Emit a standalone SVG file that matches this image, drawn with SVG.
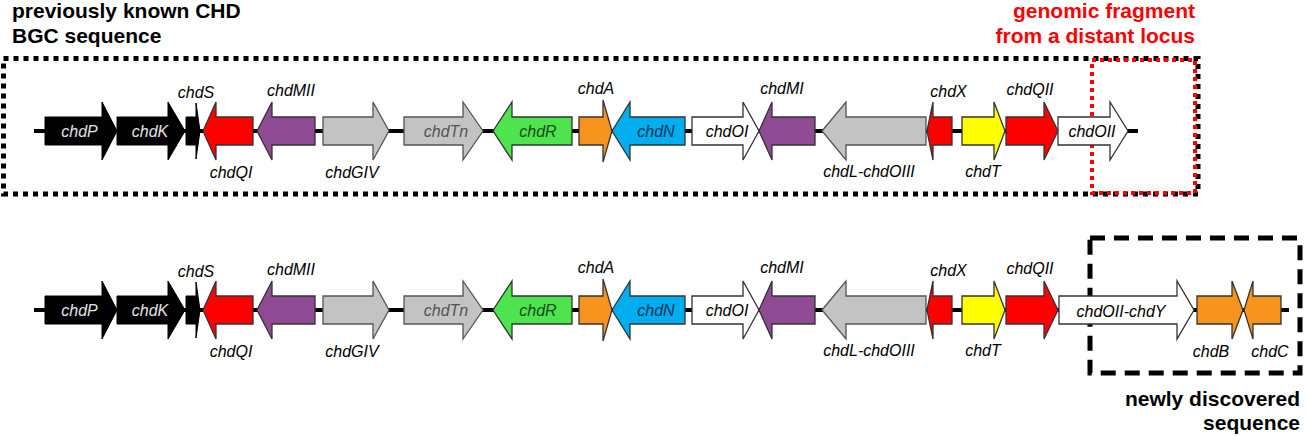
<svg xmlns="http://www.w3.org/2000/svg" width="1307" height="436" viewBox="0 0 1307 436">
<style>
.g{stroke:#333;stroke-width:1.3;stroke-linejoin:miter}
.blk{fill:#000;stroke:#000;stroke-width:1}
.red{fill:#ff0000}
.pur{fill:#8f4a94}
.gry{fill:#c3c3c3;stroke:#555}
.grn{fill:#4ee44e}
.org{fill:#f7941d}
.blu{fill:#00adef}
.yel{fill:#ffff00}
.wht{fill:#fff}
.lbl{font-family:"Liberation Sans",Arial,sans-serif;font-style:italic;font-size:16px;text-anchor:middle;fill:#000}
.title{font-family:"Liberation Sans",Arial,sans-serif;font-weight:bold;font-size:21px;fill:#000}
.line{stroke:#000;stroke-width:4;fill:none}
</style>
<g id="titles">
<text class="title" x="12" y="18">previously known CHD</text>
<text class="title" x="12" y="43">BGC sequence</text>
<text class="title" x="1195" y="18" text-anchor="end" style="fill:#ff0000">genomic fragment</text>
<text class="title" x="1195" y="43" text-anchor="end" style="fill:#ff0000">from a distant locus</text>
<text class="title" x="1300" y="406" text-anchor="end">newly discovered</text>
<text class="title" x="1300" y="430" text-anchor="end">sequence</text>
</g>
<g id="boxes" fill="none">
<rect x="3.5" y="58.5" width="1194.5" height="135.5" stroke="#000" stroke-width="5" stroke-dasharray="5 5"/>
<rect x="1092" y="60" width="103" height="133" stroke="#ff0000" stroke-width="4" stroke-dasharray="4 4"/>
<path d="M1090,238 H1297 Q1300,238 1300,241 V373 H1090 Z" stroke="#000" stroke-width="5" stroke-dasharray="15 9"/>
</g>
<g id="connectors">
<line class="line" x1="34" y1="131" x2="1138" y2="131"/>
<line class="line" x1="34" y1="310" x2="1289" y2="310"/>
</g>
<g id="row1">
<g id="r1-chdP"><polygon class="blk" points="45,117 102,117 102,102 117,131 102,160 102,145 45,145"/><text class="lbl" x="79.5" y="137" style="fill:#e2e2e2">chdP</text></g>
<g id="r1-chdK"><polygon class="blk" points="117,117 168,117 168,102 185,131 168,160 168,145 117,145"/><text class="lbl" x="150" y="137" style="fill:#e2e2e2">chdK</text></g>
<g id="r1-chdS"><polygon class="blk" points="186,117 196,117 196,103 200,131 196,159 196,145 186,145"/><text class="lbl" x="196" y="97.5">chdS</text></g>
<g id="r1-chdQI"><polygon class="g red" points="203,131 216,102 216,117 253,117 253,145 216,145 216,160"/><text class="lbl" x="231" y="177.5">chdQI</text></g>
<g id="r1-chdMII"><polygon class="g pur" points="257,131 272,102 272,117 315,117 315,145 272,145 272,160"/><text class="lbl" x="291" y="96">chdMII</text></g>
<g id="r1-chdGIV"><polygon class="g gry" points="323,117 373,117 373,102 389,131 373,160 373,145 323,145"/><text class="lbl" x="352" y="178">chdGIV</text></g>
<g id="r1-chdTn"><polygon class="g gry" points="404,117 463,117 463,102 483,131 463,160 463,145 404,145"/><text class="lbl" x="446" y="137" style="fill:#555">chdTn</text></g>
<g id="r1-chdR"><polygon class="g grn" points="493,131 512,102 512,117 572,117 572,145 512,145 512,160"/><text class="lbl" x="538" y="137" style="fill:#1c4a1c">chdR</text></g>
<g id="r1-chdA"><polygon class="g org" points="579,117 603,117 603,100 612,131 603,162 603,145 579,145"/><text class="lbl" x="596" y="93.5">chdA</text></g>
<g id="r1-chdN"><polygon class="g blu" points="612,131 630,102 630,117 685,117 685,145 630,145 630,160"/><text class="lbl" x="656" y="137" style="fill:#0c3656">chdN</text></g>
<g id="r1-chdOI"><polygon class="g wht" points="692,117 743,117 743,102 759,131 743,160 743,145 692,145"/><text class="lbl" x="727" y="137">chdOI</text></g>
<g id="r1-chdMI"><polygon class="g pur" points="759,131 772,102 772,117 815,117 815,145 772,145 772,160"/><text class="lbl" x="782" y="93.5">chdMI</text></g>
<g id="r1-chdL"><polygon class="g gry" points="822,131 846,102 846,117 926,117 926,145 846,145 846,160"/><text class="lbl" x="869" y="177">chdL-chdOIII</text></g>
<g id="r1-chdX"><polygon class="g red" points="927,131 933,102 933,117 952,117 952,145 933,145 933,160"/><text class="lbl" x="948.5" y="96.5">chdX</text></g>
<g id="r1-chdT"><polygon class="g yel" points="962,117 994,117 994,102 1005,131 994,160 994,145 962,145"/><text class="lbl" x="983" y="177">chdT</text></g>
<g id="r1-chdQII"><polygon class="g red" points="1006,117 1044,117 1044,102 1058,131 1044,160 1044,145 1006,145"/><text class="lbl" x="1030" y="95">chdQII</text></g>
<g id="r1-chdOII"><polygon class="g wht" points="1058,117 1110,117 1110,102 1128,131 1110,160 1110,145 1058,145"/><text class="lbl" x="1092" y="137">chdOII</text></g>
</g>
<g id="row2" transform="translate(0,179)">
<g id="r2-chdP"><polygon class="blk" points="45,117 102,117 102,102 117,131 102,160 102,145 45,145"/><text class="lbl" x="79.5" y="137" style="fill:#e2e2e2">chdP</text></g>
<g id="r2-chdK"><polygon class="blk" points="117,117 168,117 168,102 185,131 168,160 168,145 117,145"/><text class="lbl" x="150" y="137" style="fill:#e2e2e2">chdK</text></g>
<g id="r2-chdS"><polygon class="blk" points="186,117 196,117 196,103 200,131 196,159 196,145 186,145"/><text class="lbl" x="196" y="97.5">chdS</text></g>
<g id="r2-chdQI"><polygon class="g red" points="203,131 216,102 216,117 253,117 253,145 216,145 216,160"/><text class="lbl" x="231" y="177.5">chdQI</text></g>
<g id="r2-chdMII"><polygon class="g pur" points="257,131 272,102 272,117 315,117 315,145 272,145 272,160"/><text class="lbl" x="291" y="96">chdMII</text></g>
<g id="r2-chdGIV"><polygon class="g gry" points="323,117 373,117 373,102 389,131 373,160 373,145 323,145"/><text class="lbl" x="352" y="178">chdGIV</text></g>
<g id="r2-chdTn"><polygon class="g gry" points="404,117 463,117 463,102 483,131 463,160 463,145 404,145"/><text class="lbl" x="446" y="137" style="fill:#555">chdTn</text></g>
<g id="r2-chdR"><polygon class="g grn" points="493,131 512,102 512,117 572,117 572,145 512,145 512,160"/><text class="lbl" x="538" y="137" style="fill:#1c4a1c">chdR</text></g>
<g id="r2-chdA"><polygon class="g org" points="579,117 603,117 603,100 612,131 603,162 603,145 579,145"/><text class="lbl" x="596" y="93.5">chdA</text></g>
<g id="r2-chdN"><polygon class="g blu" points="612,131 630,102 630,117 685,117 685,145 630,145 630,160"/><text class="lbl" x="656" y="137" style="fill:#0c3656">chdN</text></g>
<g id="r2-chdOI"><polygon class="g wht" points="692,117 743,117 743,102 759,131 743,160 743,145 692,145"/><text class="lbl" x="727" y="137">chdOI</text></g>
<g id="r2-chdMI"><polygon class="g pur" points="759,131 772,102 772,117 815,117 815,145 772,145 772,160"/><text class="lbl" x="782" y="93.5">chdMI</text></g>
<g id="r2-chdL"><polygon class="g gry" points="822,131 846,102 846,117 926,117 926,145 846,145 846,160"/><text class="lbl" x="869" y="177">chdL-chdOIII</text></g>
<g id="r2-chdX"><polygon class="g red" points="927,131 933,102 933,117 952,117 952,145 933,145 933,160"/><text class="lbl" x="948.5" y="96.5">chdX</text></g>
<g id="r2-chdT"><polygon class="g yel" points="962,117 994,117 994,102 1005,131 994,160 994,145 962,145"/><text class="lbl" x="983" y="177">chdT</text></g>
<g id="r2-chdQII"><polygon class="g red" points="1006,117 1044,117 1044,102 1058,131 1044,160 1044,145 1006,145"/><text class="lbl" x="1030" y="95">chdQII</text></g>
<g id="r2-chdOII-chdY"><polygon class="g wht" points="1059,117 1177,117 1177,102 1194,131 1177,160 1177,145 1059,145"/><text class="lbl" x="1121" y="137.5">chdOII-chdY</text></g>
<g id="r2-chdB"><polygon class="g org" points="1197,117 1232,117 1232,102 1243,131 1232,160 1232,145 1197,145"/><text class="lbl" x="1211" y="178">chdB</text></g>
<g id="r2-chdC"><polygon class="g org" points="1244,131 1253,102 1253,117 1281,117 1281,145 1253,145 1253,160"/><text class="lbl" x="1270" y="178">chdC</text></g>
</g>
</svg>
